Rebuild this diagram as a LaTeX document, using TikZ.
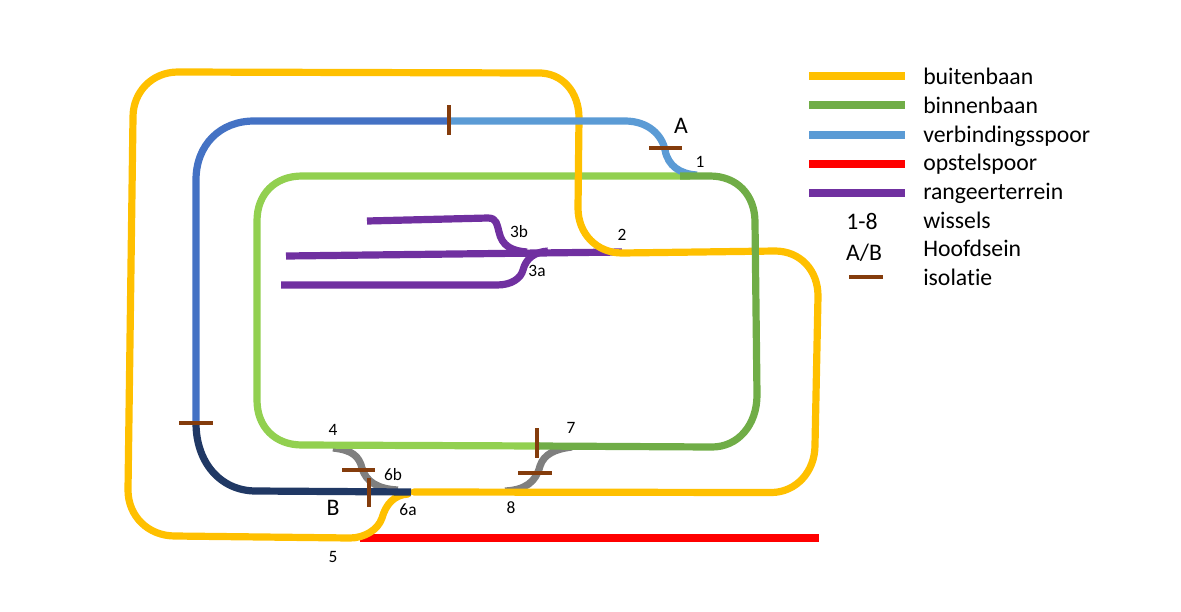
\documentclass[tikz,border=0pt]{standalone}
\usepackage{fontspec}
\setmainfont{Carlito}[Ligatures=NoCommon]
\definecolor{cyellow}{HTML}{FFC000}
\definecolor{cgreen}{HTML}{70AD47}
\definecolor{clight}{HTML}{92D050}
\definecolor{cblue}{HTML}{5B9BD5}
\definecolor{cmid}{HTML}{4472C4}
\definecolor{cnavy}{HTML}{203864}
\definecolor{cred}{HTML}{FF0000}
\definecolor{cpurple}{HTML}{7030A0}
\definecolor{cgray}{HTML}{7F7F7F}
\definecolor{cbrown}{HTML}{843C0C}
\tikzset{
  track/.style={line width=5.4pt,line join=round},
  iso/.style={draw=cbrown,line width=3.4pt},
  small/.style={font=\fontsize{13}{15}\selectfont,inner sep=0pt},
  big/.style={font=\fontsize{17.8}{20}\selectfont,inner sep=0pt},
  keytext/.style={font=\fontsize{17.8}{20}\selectfont,inner sep=0pt,anchor=base west},
  keysym/.style={font=\fontsize{17.8}{20}\selectfont,inner sep=0pt,anchor=base},
}
\begin{document}
\begin{tikzpicture}[x=0.75pt,y=-0.75pt]
\useasboundingbox (0,0) rectangle (1181,611);
% red siding
\draw[track,cred] (360,538) -- (819,538);
% gray switches
\draw[track,cgray] (333,448) .. controls (352,450) and (359,456) .. (362,468) .. controls (366,482) and (378,489) .. (398,490);
\draw[track,cgray] (572,447) .. controls (555,449) and (544,454) .. (540,466) .. controls (536,482) and (525,490) .. (505,491);
% light green
\draw[track,clight] (690,176) -- (302,176) .. controls (275,176) and (257,194) .. (257,221) -- (257,400) .. controls (257,427) and (275,445) .. (302,445) -- (540,446);
% purple
\draw[track,cpurple] (286,256) -- (622,252);
\draw[track,cpurple] (367,221) -- (488,218) .. controls (497,218) and (497,225) .. (499,232) .. controls (502,246) and (512,251) .. (527,252);
\draw[track,cpurple] (281,285) -- (497,285) .. controls (512,285) and (521,278) .. (523,270) .. controls (526,258) and (535,252) .. (548,251);
% yellow
\draw[track,cyellow,line cap=round] (414,492) -- (772,492.5) .. controls (796,492) and (815,472) .. (815,445) -- (818,296) .. controls (818,270) and (800,251) .. (775,251) -- (622,253) .. controls (597,253) and (578,234) .. (578,208) -- (579,118) .. controls (579,92) and (562,72) .. (537,73) -- (178,72) .. controls (152,72) and (133,92) .. (133,117) -- (128,490) .. controls (128,516) and (148,536) .. (175,536) -- (350,538) .. controls (364,538) and (378,530) .. (382,518) .. controls (386,504) and (394,495) .. (408,494);
% blue
\draw[track,cblue] (449,121) -- (625,121) .. controls (648,121) and (662,135) .. (665,150) .. controls (668,166) and (680,174) .. (697,175);
\draw[track,cmid] (449,121) -- (254,121) .. controls (220,121) and (196,145) .. (196,180) -- (196,423);
\draw[track,cnavy] (196,423) .. controls (196,462) and (220,491) .. (256,491) -- (411,492);
% dark green
\draw[track,cgreen] (537,446) -- (712,447) .. controls (738,447) and (757,425) .. (757,395) -- (755,222) .. controls (755,195) and (737,176) .. (710,176) -- (680,176);
% isolations
\draw[iso] (449,105) -- (449,135);
\draw[iso] (649,148) -- (682,148);
\draw[iso] (179,423) -- (213,423);
\draw[iso] (342,470) -- (375,470);
\draw[iso] (369,478) -- (369,507);
\draw[iso] (537,428) -- (537,458);
\draw[iso] (518,473) -- (552,473);
% labels
\node[big] (lA) at (681,126) {A};
\node[big] (lB) at (333,508) {B};
\node[small] (l1) at (700,162) {1};
\node[small] (l2) at (622,235) {2};
\node[small] (l3b) at (519,232) {3b};
\node[small] (l3a) at (537,271) {3a};
\node[small] (l4) at (333,430) {4};
\node[small] (l5) at (333,557) {5};
\node[small] (l6b) at (393,475) {6b};
\node[small] (l6a) at (408,510) {6a};
\node[small] (l7) at (571,428) {7};
\node[small] (l8) at (511,508) {8};
% legend
\draw[track,cyellow] (809,76) -- (905,76);
\draw[track,cgreen] (809,105) -- (905,105);
\draw[track,cblue] (809,135) -- (905,135);
\draw[track,cred] (809,164) -- (905,164);
\draw[track,cpurple] (809,193) -- (905,193);
\draw[iso] (849,277) -- (883,277);
\node[keysym] (k1) at (862,229) {1-8};
\node[keysym] (k2) at (864,260) {A/B};
\node[keytext] (t1) at (923,84) {buitenbaan};
\node[keytext] (t2) at (923,113) {binnenbaan};
\node[keytext] (t3) at (923,142) {verbindingsspoor};
\node[keytext] (t4) at (923,170) {opstelspoor};
\node[keytext] (t5) at (923,199) {rangeerterrein};
\node[keytext] (t6) at (923,228) {wissels};
\node[keytext] (t7) at (923,256) {Hoofdsein};
\node[keytext] (t8) at (923,285) {isolatie};
\end{tikzpicture}
\end{document}
